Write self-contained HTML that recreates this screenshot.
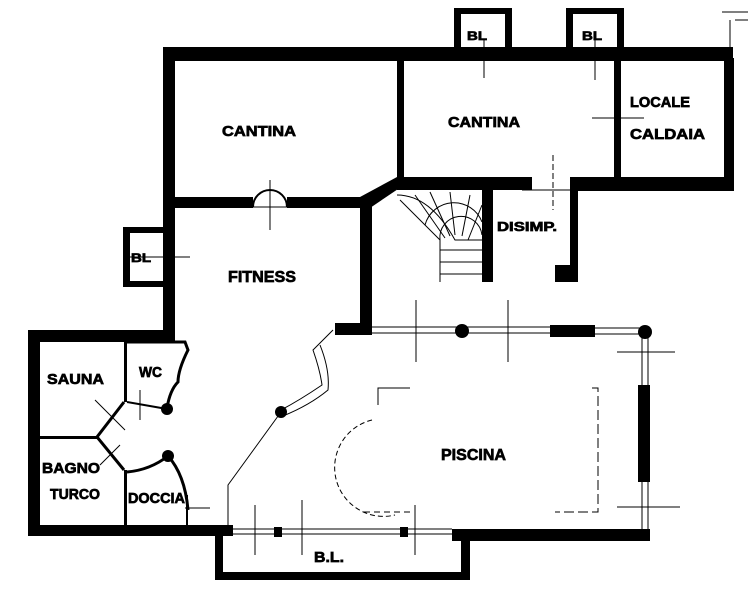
<!DOCTYPE html>
<html><head><meta charset="utf-8"><style>
html,body{margin:0;padding:0;background:#fff;}
svg{display:block}
text{font-family:"Liberation Sans Narrow","Liberation Sans",sans-serif;font-weight:bold;fill:#000;stroke:#000;stroke-width:0.7;}
</style></head><body>
<svg width="748" height="600" viewBox="0 0 748 600" xmlns="http://www.w3.org/2000/svg">
<g fill="#000">
<rect x="163" y="47" width="570" height="14"/>
<rect x="454" y="8" width="58" height="6"/><rect x="454" y="8" width="7" height="45"/><rect x="505" y="8" width="7" height="45"/>
<rect x="566" y="8" width="58" height="6"/><rect x="566" y="8" width="7" height="45"/><rect x="617" y="8" width="7" height="45"/>
<rect x="163" y="47" width="12" height="295"/>
<rect x="163" y="197" width="90" height="11"/><rect x="287" y="197" width="80" height="11"/>
<rect x="397" y="60" width="7" height="125"/>
<rect x="397" y="177" width="135" height="13"/>
<rect x="570" y="177" width="163" height="14"/>
<polygon points="360,197 397,177 404,185 370,208 360,208"/>
<rect x="614" y="60" width="7" height="125"/>
<rect x="724" y="58" width="10" height="133"/>
<rect x="482" y="190" width="11" height="92"/>
<rect x="570" y="190" width="8" height="90"/>
<rect x="555" y="265" width="23" height="17"/>
<rect x="360" y="200" width="12" height="125"/>
<rect x="123" y="227" width="42" height="6"/><rect x="123" y="227" width="7" height="60"/><rect x="123" y="281" width="42" height="6"/>
<rect x="335" y="323" width="37" height="12"/>
<circle cx="462" cy="331" r="7"/>
<rect x="550" y="325" width="45" height="12"/>
<circle cx="645" cy="332" r="7"/>
<rect x="638" y="385" width="12" height="97"/>
<rect x="452" y="529" width="198" height="12"/>
<rect x="28" y="525" width="205" height="11"/>
<rect x="215" y="530" width="8" height="50"/><rect x="215" y="572" width="255" height="8"/><rect x="461" y="530" width="9" height="50"/>
<rect x="274" y="527" width="8" height="10"/><rect x="400" y="527" width="8" height="10"/>
<rect x="28" y="330" width="12" height="206"/>
<rect x="28" y="330" width="147" height="12"/>
<rect x="124" y="342" width="3" height="60"/>
<rect x="40" y="436" width="57" height="3"/>
<rect x="124" y="470" width="3" height="56"/>
<circle cx="167" cy="409" r="6"/><circle cx="168" cy="456" r="6"/>
<circle cx="281" cy="412" r="6"/>
</g>
<g fill="none" stroke="#000">
<path d="M253,207 A17,17 0 0 1 287,207" stroke-width="2"/>
<line x1="270" y1="180" x2="270" y2="230" stroke-width="1"/>
<line x1="253" y1="207" x2="287" y2="207" stroke-width="1"/>
<path d="M127,342 H185 L188,350 Q178,370 178,382 Q170,390 167,408" stroke-width="3"/>
<path d="M127,402 L167,409" stroke-width="2"/>
<path d="M124,402 L97,437 L124,470" stroke-width="3"/>
<line x1="95" y1="400" x2="125" y2="430" stroke-width="1"/>
<line x1="140" y1="390" x2="140" y2="420" stroke-width="1"/>
<line x1="100" y1="465" x2="120" y2="445" stroke-width="1"/>
<path d="M127,472 Q150,470 168,456 Q185,475 188,510" stroke-width="3"/>
<line x1="185" y1="508" x2="210" y2="508" stroke-width="1"/>
<line x1="187" y1="495" x2="187" y2="528" stroke-width="2"/>
<line x1="372" y1="327" x2="550" y2="327" stroke-width="1"/>
<line x1="372" y1="333" x2="550" y2="333" stroke-width="1"/>
<line x1="595" y1="328" x2="645" y2="328" stroke-width="1"/>
<line x1="595" y1="334" x2="645" y2="334" stroke-width="1"/>
<line x1="642" y1="335" x2="642" y2="530" stroke-width="1"/>
<line x1="648" y1="335" x2="648" y2="530" stroke-width="1"/>
<line x1="233" y1="529" x2="452" y2="529" stroke-width="1"/>
<line x1="233" y1="534" x2="452" y2="534" stroke-width="1"/>
<path d="M333,330 L313,350 Q320,370 322,385 Q300,400 281,410" stroke-width="1"/>
<path d="M320,345 Q330,370 328,390 Q310,405 283,416" stroke-width="1"/>
<path d="M281,412 L228,485 L228,530" stroke-width="1"/>
<path d="M372,420 A48,48 0 0 0 395,515" stroke-width="1" stroke-dasharray="5,3"/>
<path d="M378,405 V388 H410" stroke-width="1"/>
<path d="M592,388 H598 V512 H555" stroke-width="1" stroke-dasharray="10,4"/>
<path d="M410,512 H360" stroke-width="1" stroke-dasharray="6,4"/>
<line x1="255" y1="505" x2="255" y2="555" stroke-width="1"/>
<line x1="302" y1="500" x2="302" y2="555" stroke-width="1"/>
<line x1="415" y1="505" x2="415" y2="555" stroke-width="1"/>
<line x1="416" y1="300" x2="416" y2="362" stroke-width="1"/>
<line x1="508" y1="300" x2="508" y2="362" stroke-width="1"/>
<line x1="617" y1="352" x2="675" y2="352" stroke-width="1"/>
<line x1="617" y1="507" x2="680" y2="507" stroke-width="1"/>
<line x1="130" y1="257" x2="190" y2="257" stroke-width="1"/>
<line x1="484" y1="40" x2="484" y2="78" stroke-width="1"/>
<line x1="595" y1="40" x2="595" y2="80" stroke-width="1"/>
<line x1="592" y1="118" x2="644" y2="118" stroke-width="1"/>
<line x1="553" y1="155" x2="553" y2="210" stroke-width="1" stroke-dasharray="6,3"/>
<line x1="522" y1="190" x2="570" y2="190" stroke-width="1"/>
<path d="M397,195 Q430,195 455,240 L482,240" stroke-width="1"/>
<path d="M425,225 A30,30 0 0 1 482,222" stroke-width="1"/>
<path d="M440,240 A20,20 0 0 1 482,235" stroke-width="1"/>
<line x1="400" y1="200" x2="440" y2="240"/><line x1="415" y1="195" x2="445" y2="238"/>
<line x1="430" y1="192" x2="450" y2="236"/><line x1="450" y1="192" x2="455" y2="235"/>
<line x1="470" y1="195" x2="462" y2="236"/><line x1="482" y1="205" x2="468" y2="240"/>
<line x1="440" y1="250" x2="482" y2="250"/><line x1="440" y1="262" x2="482" y2="262"/>
<line x1="440" y1="274" x2="482" y2="274"/>
<line x1="440" y1="240" x2="440" y2="282"/>
<path d="M722,12 H748 M730,20 V50 M735,20 H748" stroke-width="1"/>
</g>
<text x="222" y="136" font-size="15" textLength="74" lengthAdjust="spacingAndGlyphs">CANTINA</text>
<text x="448" y="127" font-size="15" textLength="72" lengthAdjust="spacingAndGlyphs">CANTINA</text>
<text x="630" y="107" font-size="15" textLength="60" lengthAdjust="spacingAndGlyphs">LOCALE</text>
<text x="630" y="139" font-size="15" textLength="75" lengthAdjust="spacingAndGlyphs">CALDAIA</text>
<text x="497" y="231" font-size="13" textLength="60" lengthAdjust="spacingAndGlyphs">DISIMP.</text>
<text x="228" y="282" font-size="16" textLength="68" lengthAdjust="spacingAndGlyphs">FITNESS</text>
<text x="47" y="384" font-size="15" textLength="57" lengthAdjust="spacingAndGlyphs">SAUNA</text>
<text x="139" y="377" font-size="15" textLength="23" lengthAdjust="spacingAndGlyphs">WC</text>
<text x="42" y="473" font-size="15" textLength="58" lengthAdjust="spacingAndGlyphs">BAGNO</text>
<text x="50" y="499" font-size="15" textLength="50" lengthAdjust="spacingAndGlyphs">TURCO</text>
<text x="128" y="503" font-size="15" textLength="57" lengthAdjust="spacingAndGlyphs">DOCCIA</text>
<text x="441" y="460" font-size="16" textLength="65" lengthAdjust="spacingAndGlyphs">PISCINA</text>
<text x="314" y="562" font-size="15" textLength="30" lengthAdjust="spacingAndGlyphs">B.L.</text>
<text x="467" y="40" font-size="12" textLength="20" lengthAdjust="spacingAndGlyphs">BL</text>
<text x="582" y="40" font-size="12" textLength="20" lengthAdjust="spacingAndGlyphs">BL</text>
<text x="131" y="262" font-size="12" textLength="20" lengthAdjust="spacingAndGlyphs">BL</text>
</svg>
</body></html>
